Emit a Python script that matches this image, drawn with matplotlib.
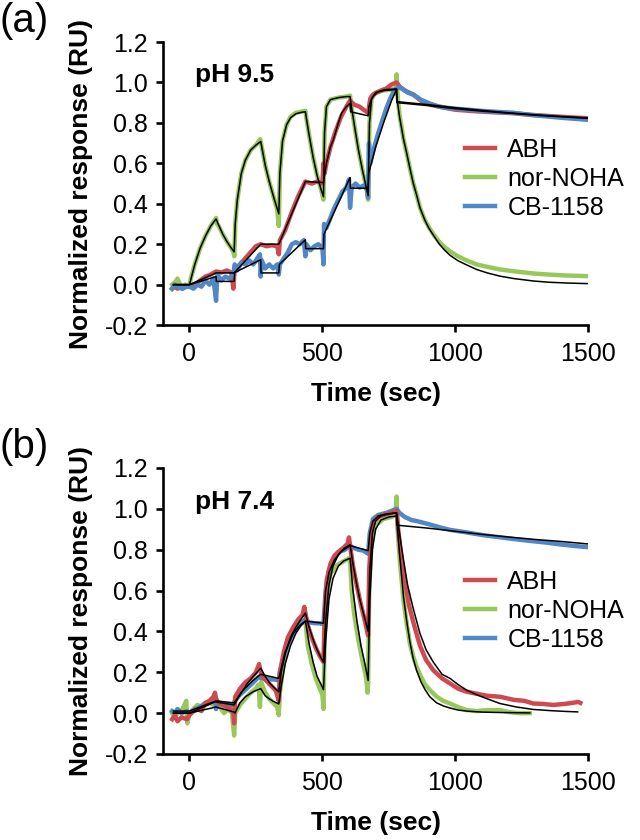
import matplotlib
matplotlib.use("Agg")
import matplotlib.pyplot as plt

plt.rcParams['font.family'] = ['Liberation Sans', 'DejaVu Sans']

# ---------------- panel (a) pH 9.5 ----------------
a_green_t = [-65, -55, -45, -35, -25, -15, 0, 5, 20, 40, 60, 80, 100, 104, 110, 125, 140, 155, 166, 169,
             172, 180, 195, 210, 230, 250, 266, 272, 285, 300, 315, 330, 336, 340, 350, 365, 380, 400, 420, 436,
             440, 450, 465, 480, 495, 504, 508, 515, 530, 560, 590, 604, 608, 620, 635, 650, 665, 672, 677, 685,
             700, 730, 760, 776, 779, 783, 790, 805, 817, 830, 842, 855, 867, 885, 900, 917, 940, 960, 980, 1010,
             1042, 1080, 1120, 1168, 1220, 1294, 1350, 1420, 1500]
a_green_y = [0.0, 0.01, 0.03, 0.0, -0.01, 0.0, -0.01, 0.03, 0.1, 0.18, 0.24, 0.29, 0.33, 0.3, 0.29, 0.25, 0.215, 0.185, 0.16, 0.14,
             0.3, 0.42, 0.55, 0.615, 0.665, 0.69, 0.72, 0.68, 0.59, 0.51, 0.44, 0.37, 0.29, 0.55, 0.71, 0.79, 0.83, 0.85, 0.855, 0.86,
             0.82, 0.74, 0.63, 0.54, 0.47, 0.42, 0.75, 0.88, 0.915, 0.925, 0.93, 0.935, 0.89, 0.79, 0.67, 0.57, 0.48, 0.42, 0.8, 0.92,
             0.95, 0.96, 0.965, 0.97, 1.04, 0.93, 0.84, 0.72, 0.65, 0.57, 0.50, 0.44, 0.38, 0.32, 0.285, 0.25, 0.21, 0.185, 0.165, 0.14,
             0.12, 0.1, 0.088, 0.075, 0.066, 0.055, 0.05, 0.045, 0.042]
a_green_fit_t = [-60, 0, 20, 40, 60, 80, 100, 110, 125, 140, 155, 168, 172, 180, 195, 210, 230, 250, 268, 272,
                 285, 300, 315, 336, 340, 350, 365, 380, 400, 420, 436, 440, 450, 465, 480, 495, 504, 508, 515, 530,
                 560, 590, 604, 608, 620, 635, 650, 665, 672, 677, 685, 700, 730, 760, 776, 790, 805, 817, 830, 842,
                 855, 867, 885, 900, 917, 940, 960, 980, 1010, 1042, 1080, 1120, 1168, 1220, 1294, 1350, 1420, 1500]
a_green_fit_y = [0.0, 0.0, 0.1, 0.18, 0.24, 0.29, 0.325, 0.294, 0.25, 0.215, 0.185, 0.162, 0.3, 0.42, 0.55, 0.615, 0.665, 0.69, 0.708, 0.68,
                 0.59, 0.51, 0.44, 0.35, 0.55, 0.71, 0.79, 0.825, 0.845, 0.852, 0.855, 0.82, 0.74, 0.63, 0.54, 0.47, 0.435, 0.75, 0.88, 0.915,
                 0.925, 0.93, 0.93, 0.89, 0.79, 0.67, 0.57, 0.48, 0.44, 0.8, 0.92, 0.95, 0.96, 0.963, 0.965, 0.83, 0.72, 0.65, 0.57, 0.50,
                 0.44, 0.38, 0.32, 0.28, 0.245, 0.2, 0.17, 0.145, 0.118, 0.098, 0.075, 0.058, 0.042, 0.03, 0.018, 0.012, 0.008, 0.005]

a_red_t = [-65, -55, -45, -35, -25, -15, 0, 20, 40, 60, 80, 100, 120, 140, 158, 165, 170, 190, 210, 230,
           250, 268, 290, 310, 330, 336, 340, 360, 385, 410, 436, 460, 480, 500, 504, 508, 515, 530, 550, 570,
           590, 604, 620, 640, 660, 672, 680, 690, 705, 720, 740, 760, 779, 790, 810, 842, 870, 905, 940, 967,
           1000, 1050, 1093, 1150, 1218, 1280, 1343, 1400, 1450, 1500]
a_red_y = [-0.02, -0.01, -0.02, -0.01, -0.02, -0.01, -0.01, 0.0, 0.02, 0.04, 0.05, 0.065, 0.06, 0.07, 0.06, -0.02, 0.08, 0.1, 0.13, 0.16,
           0.19, 0.2, 0.19, 0.195, 0.19, 0.15, 0.22, 0.27, 0.36, 0.44, 0.51, 0.5, 0.51, 0.5, 0.6, 0.55, 0.6, 0.68, 0.76, 0.83,
           0.88, 0.91, 0.89, 0.88, 0.86, 0.85, 0.92, 0.94, 0.95, 0.96, 0.97, 0.99, 1.0, 0.98, 0.96, 0.94, 0.91, 0.89, 0.88, 0.873,
           0.865, 0.86, 0.856, 0.852, 0.848, 0.84, 0.835, 0.83, 0.826, 0.823]
a_red_fit_t = [-60, 0, 100, 168, 268, 336, 436, 504, 515, 530, 541, 560, 572, 590, 604, 606, 672, 675, 682, 691,
               705, 716, 740, 779, 780, 900, 1000, 1100, 1200, 1300, 1400, 1500]
a_red_fit_y = [0.0, 0.0, 0.058, 0.058, 0.2, 0.2, 0.51, 0.505, 0.6, 0.68, 0.716, 0.8, 0.848, 0.88, 0.897, 0.855, 0.835, 0.88, 0.91, 0.93,
               0.95, 0.958, 0.965, 0.968, 0.905, 0.89, 0.875, 0.862, 0.85, 0.84, 0.832, 0.825]

a_blue_t = [-65, -55, -45, -30, -10, 0, 15, 30, 45, 60, 75, 90, 100, 105, 120, 135, 150, 165, 170, 180,
            195, 210, 225, 240, 255, 265, 268, 272, 285, 300, 315, 330, 336, 340, 355, 370, 385, 400, 415, 430,
            436, 440, 455, 470, 485, 500, 504, 506, 515, 530, 545, 560, 575, 590, 600, 604, 610, 625, 640, 655,
            668, 672, 675, 680, 695, 710, 725, 740, 755, 770, 779, 790, 805, 820, 842, 870, 905, 940, 967, 1000,
            1050, 1093, 1150, 1218, 1280, 1343, 1400, 1450, 1500]
a_blue_y = [-0.02, 0.0, -0.01, -0.02, -0.01, -0.01, -0.02, 0.0, -0.01, 0.02, 0.0, 0.03, -0.08, 0.05, 0.02, 0.04, 0.03, 0.05, 0.1, 0.07,
            0.11, 0.1, 0.12, 0.1, 0.13, 0.15, 0.04, 0.12, 0.08, 0.1, 0.08, 0.1, 0.05, 0.1, 0.13, 0.16, 0.2, 0.21, 0.2, 0.22,
            0.14, 0.2, 0.17, 0.19, 0.2, 0.18, 0.1, 0.3, 0.28, 0.33, 0.38, 0.42, 0.46, 0.48, 0.52, 0.38, 0.48, 0.5, 0.48, 0.49,
            0.47, 0.43, 0.7, 0.6, 0.68, 0.75, 0.81, 0.87, 0.92, 0.96, 0.97, 0.975, 0.965, 0.95, 0.94, 0.915, 0.895, 0.88, 0.875, 0.87,
            0.865, 0.86, 0.855, 0.85, 0.84, 0.832, 0.825, 0.82, 0.815]
a_blue_fit_t = [-60, 0, 100, 101, 168, 170, 268, 269, 336, 338, 436, 437, 504, 506, 604, 605, 672, 674, 700, 730,
                760, 779, 780, 900, 1000, 1100, 1200, 1300, 1400, 1500]
a_blue_fit_y = [0.0, 0.0, 0.04, 0.016, 0.016, 0.06, 0.123, 0.058, 0.058, 0.1, 0.222, 0.178, 0.178, 0.25, 0.53, 0.477, 0.477, 0.55, 0.68, 0.8,
                0.91, 0.965, 0.9, 0.885, 0.87, 0.858, 0.848, 0.838, 0.83, 0.822]

# ---------------- panel (b) pH 7.4 ----------------
b_red_t = [-65, -55, -45, -30, -10, 0, 15, 30, 45, 60, 75, 90, 96, 100, 110, 125, 140, 155, 165, 168,
           172, 190, 210, 230, 250, 262, 268, 280, 295, 310, 325, 336, 340, 355, 370, 390, 410, 425, 432, 436,
           445, 460, 475, 490, 504, 508, 516, 530, 545, 560, 580, 595, 600, 604, 615, 630, 645, 660, 672, 676,
           685, 695, 710, 730, 760, 779, 785, 795, 810, 825, 845, 867, 890, 917, 950, 980, 1010, 1042, 1080, 1120,
           1168, 1220, 1260, 1293, 1330, 1368, 1410, 1440, 1462, 1470]
b_red_y = [-0.03, -0.01, -0.04, -0.02, -0.03, -0.01, 0.01, 0.02, 0.01, 0.05, 0.06, 0.08, 0.1, 0.07, 0.05, 0.04, 0.03, 0.02, 0.0, -0.05,
           0.08, 0.12, 0.15, 0.17, 0.2, 0.24, 0.2, 0.17, 0.15, 0.13, 0.11, 0.06, 0.2, 0.3, 0.37, 0.42, 0.46, 0.48, 0.52, 0.49,
           0.43, 0.37, 0.32, 0.28, 0.25, 0.45, 0.65, 0.73, 0.77, 0.79, 0.81, 0.83, 0.86, 0.82, 0.72, 0.62, 0.53, 0.45, 0.38, 0.7,
           0.9, 0.94, 0.96, 0.97, 0.98, 0.99, 0.9, 0.78, 0.65, 0.53, 0.43, 0.33, 0.26, 0.21, 0.17, 0.145, 0.12, 0.105, 0.095, 0.085,
           0.08, 0.065, 0.06, 0.047, 0.045, 0.04, 0.045, 0.05, 0.055, 0.05]
b_red_fit_t = [-60, 0, 96, 130, 168, 190, 215, 240, 268, 285, 300, 318, 336, 345, 360, 380, 400, 420, 436, 450,
               465, 480, 495, 504, 512, 525, 540, 560, 580, 604, 615, 629, 641, 654, 666, 672, 678, 688, 700, 720,
               750, 779, 790, 805, 820, 840, 867, 890, 917, 950, 980, 1010, 1042, 1080, 1120, 1168, 1230, 1293, 1360, 1420,
               1460]
b_red_fit_y = [0.0, 0.0, 0.055, 0.048, 0.04, 0.09, 0.14, 0.18, 0.22, 0.18, 0.15, 0.125, 0.104, 0.2, 0.29, 0.37, 0.42, 0.46, 0.49, 0.42,
               0.36, 0.31, 0.27, 0.25, 0.45, 0.63, 0.72, 0.775, 0.805, 0.825, 0.73, 0.63, 0.555, 0.49, 0.43, 0.4, 0.7, 0.88, 0.94, 0.965,
               0.975, 0.98, 0.88, 0.75, 0.63, 0.52, 0.39, 0.31, 0.25, 0.19, 0.17, 0.14, 0.113, 0.09, 0.07, 0.047, 0.03, 0.018, 0.012, 0.008,
               0.006]

b_green_t = [-65, -55, -45, -30, -12, -8, 0, 15, 30, 45, 60, 75, 90, 100, 115, 130, 145, 160, 168, 172,
             190, 210, 230, 250, 260, 265, 270, 285, 300, 315, 330, 336, 340, 355, 370, 390, 410, 436, 445, 460,
             475, 490, 500, 504, 508, 516, 530, 550, 575, 604, 610, 620, 635, 650, 665, 670, 672, 676, 685, 700,
             730, 760, 775, 779, 783, 791, 805, 817, 829, 841, 854, 870, 886, 904, 930, 955, 980, 1010, 1042, 1080,
             1120, 1168, 1200, 1240, 1280]
b_green_y = [0.0, -0.02, 0.0, 0.01, 0.06, -0.05, 0.0, 0.02, 0.04, 0.03, 0.04, 0.05, 0.04, 0.06, 0.03, 0.0, 0.02, 0.0, -0.11, 0.0,
             0.04, 0.07, 0.1, 0.12, 0.14, 0.03, 0.15, 0.1, 0.07, 0.05, 0.03, -0.01, 0.1, 0.25, 0.34, 0.4, 0.43, 0.45, 0.33, 0.24,
             0.17, 0.12, 0.09, 0.02, 0.35, 0.58, 0.68, 0.72, 0.74, 0.76, 0.6, 0.48, 0.36, 0.26, 0.17, 0.1, 0.15, 0.6, 0.85, 0.92,
             0.95, 0.96, 0.97, 1.06, 0.9, 0.75, 0.55, 0.44, 0.34, 0.28, 0.227, 0.18, 0.14, 0.113, 0.08, 0.06, 0.047, 0.03, 0.015, 0.01,
             0.015, 0.015, 0.005, 0.0, 0.0]
b_green_fit_t = [-60, 0, 100, 168, 171, 190, 210, 240, 268, 285, 300, 315, 336, 345, 360, 380, 400, 420, 436, 450,
                 465, 480, 495, 504, 512, 525, 540, 560, 580, 604, 615, 630, 645, 660, 672, 678, 688, 700, 720, 750,
                 779, 790, 805, 817, 829, 841, 854, 870, 886, 904, 930, 955, 980, 1010, 1042, 1100, 1168, 1280]
b_green_fit_y = [0.0, 0.0, 0.03, 0.005, 0.0, 0.05, 0.08, 0.105, 0.12, 0.085, 0.07, 0.058, 0.045, 0.13, 0.24, 0.33, 0.39, 0.43, 0.45, 0.34,
                 0.25, 0.18, 0.14, 0.115, 0.35, 0.56, 0.66, 0.72, 0.745, 0.758, 0.6, 0.45, 0.33, 0.24, 0.16, 0.55, 0.8, 0.9, 0.945, 0.96,
                 0.965, 0.78, 0.57, 0.45, 0.35, 0.27, 0.21, 0.155, 0.115, 0.08, 0.05, 0.035, 0.025, 0.015, 0.01, 0.005, 0.003, 0.001]

b_blue_t = [-65, -55, -45, -30, -10, 0, 20, 40, 60, 80, 96, 100, 110, 130, 150, 165, 170, 190, 215, 240,
            262, 268, 285, 300, 320, 336, 340, 360, 380, 400, 420, 436, 450, 470, 490, 504, 512, 525, 545, 565,
            585, 604, 615, 635, 655, 672, 678, 690, 710, 740, 760, 779, 790, 810, 835, 855, 900, 940, 980, 1040,
            1100, 1160, 1220, 1280, 1340, 1400, 1450, 1500]
b_blue_y = [0.01, 0.0, 0.02, 0.0, 0.01, 0.0, 0.02, 0.03, 0.05, 0.06, 0.07, 0.02, 0.05, 0.045, 0.04, 0.04, 0.06, 0.09, 0.12, 0.15,
            0.18, 0.17, 0.17, 0.165, 0.165, 0.16, 0.2, 0.3, 0.37, 0.41, 0.44, 0.46, 0.445, 0.44, 0.44, 0.435, 0.6, 0.7, 0.76, 0.79,
            0.8, 0.82, 0.81, 0.8, 0.795, 0.78, 0.88, 0.95, 0.97, 0.98, 0.99, 1.0, 0.98, 0.96, 0.945, 0.94, 0.925, 0.91, 0.897, 0.885,
            0.872, 0.862, 0.852, 0.843, 0.835, 0.825, 0.818, 0.812]
b_blue_fit_t = [-60, 0, 100, 168, 200, 235, 268, 336, 360, 390, 415, 436, 504, 512, 525, 545, 570, 604, 672, 678,
                690, 710, 740, 779, 780, 900, 1000, 1100, 1200, 1300, 1400, 1500]
b_blue_fit_y = [0.01, 0.01, 0.06, 0.05, 0.11, 0.155, 0.19, 0.17, 0.3, 0.39, 0.43, 0.45, 0.44, 0.6, 0.69, 0.75, 0.79, 0.82, 0.795, 0.88,
                0.94, 0.965, 0.975, 0.98, 0.92, 0.905, 0.89, 0.875, 0.862, 0.85, 0.84, 0.828]

labels = ['ABH', 'nor-NOHA', 'CB-1158']
c_red = '#cf4a50'
c_green = '#98c85a'
c_blue = '#4f87c7'

panels = [
    dict(tag='(a)', ph='pH 9.5',
         data=[(a_green_t, a_green_y, c_green, labels[1]),
               (a_red_t, a_red_y, c_red, labels[0]),
               (a_blue_t, a_blue_y, c_blue, labels[2])],
         fits=[(a_green_fit_t, a_green_fit_y), (a_red_fit_t, a_red_fit_y), (a_blue_fit_t, a_blue_fit_y)]),
    dict(tag='(b)', ph='pH 7.4',
         data=[(b_green_t, b_green_y, c_green, labels[1]),
               (b_blue_t, b_blue_y, c_blue, labels[2]),
               (b_red_t, b_red_y, c_red, labels[0])],
         fits=[(b_green_fit_t, b_green_fit_y), (b_red_fit_t, b_red_fit_y), (b_blue_fit_t, b_blue_fit_y)]),
]

fig = plt.figure(figsize=(6.4, 8.4), dpi=100)
ax_pos = [[0.2545, 0.613, 0.6647, 0.337], [0.2545, 0.1024, 0.6647, 0.3405]]
tag_y = [0.998, 0.49]
leg_y = [0.66, 0.645]

for p, pos, ty, ly in zip(panels, ax_pos, tag_y, leg_y):
    ax = fig.add_axes(pos)
    lines = {}
    for t, y, c, lab in p['data']:
        ln, = ax.plot(t, y, color=c, lw=3.2, solid_joinstyle='round', label=lab)
        lines[lab] = ln
    for t, y in p['fits']:
        ax.plot(t, y, color='black', lw=1.1)

    ax.set_xlim(-100, 1500)
    ax.set_ylim(-0.2, 1.2)
    ax.set_xticks([0, 500, 1000, 1500])
    ax.set_yticks([-0.2, 0.0, 0.2, 0.4, 0.6, 0.8, 1.0, 1.2])
    ax.set_yticklabels(['-0.2', '0.0', '0.2', '0.4', '0.6', '0.8', '1.0', '1.2'])
    for s in ['top', 'right']:
        ax.spines[s].set_visible(False)
    for s in ['left', 'bottom']:
        ax.spines[s].set_linewidth(1.9)
    ax.tick_params(width=1.9, length=5, labelsize=18, pad=6)
    ax.tick_params(axis='x', pad=7)
    ax.set_xlabel('Time (sec)', fontsize=19, fontweight='bold', labelpad=12)
    ax.set_ylabel('Normalized response (RU)', fontsize=19, fontweight='bold', labelpad=8)
    ax.text(20, 1.0, p['ph'], fontsize=19, fontweight='bold', va='baseline')
    ax.legend([lines[l] for l in labels], labels, loc='upper left', bbox_to_anchor=(0.71, ly),
              frameon=False, fontsize=18, handlelength=1.2, handletextpad=0.5, labelspacing=0.2,
              borderpad=0, borderaxespad=0)
    fig.text(0.0, ty, p['tag'], fontsize=29, va='top', ha='left')

fig.savefig('out.png', dpi=100)
